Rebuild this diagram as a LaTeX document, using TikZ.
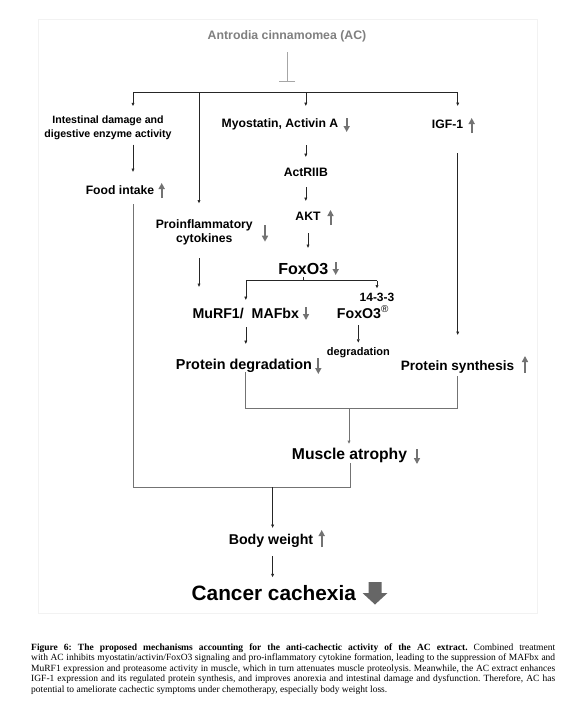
\documentclass[tikz,border=0pt]{standalone}
\usepackage{fontspec}
\setmainfont{Liberation Serif}
\newfontfamily\lsans{Liberation Sans}
\usetikzlibrary{arrows.meta}
\tikzset{
  lbl/.style={inner sep=0pt, anchor=base, text depth=0pt},
  ml/.style={inner sep=0pt, anchor=north, align=center},
  tT/.style={lbl, font=\lsans\bfseries\fontsize{12.3}{14}\selectfont, text height=8.9pt},
  tM/.style={lbl, font=\lsans\bfseries\fontsize{12.2}{14}\selectfont, text height=8.8pt},
  tF/.style={lbl, font=\lsans\bfseries\fontsize{16}{18}\selectfont, text height=11.5pt},
  tS/.style={lbl, font=\lsans\bfseries\fontsize{12}{14}\selectfont, text height=8.6pt},
  tL/.style={lbl, font=\lsans\bfseries\fontsize{14.2}{16}\selectfont, text height=10.2pt},
  tPD/.style={lbl, font=\lsans\bfseries\fontsize{14.4}{16}\selectfont, text height=10.4pt},
  tPS/.style={lbl, font=\lsans\bfseries\fontsize{13.6}{16}\selectfont, text height=9.8pt},
  tD/.style={lbl, font=\lsans\bfseries\fontsize{11}{13}\selectfont, text height=7.9pt},
  tMA/.style={lbl, font=\lsans\bfseries\fontsize{15.7}{18}\selectfont, text height=11.3pt},
  tC/.style={lbl, font=\lsans\bfseries\fontsize{20.8}{24}\selectfont, text height=15pt},
  arr/.style={draw=black!85, line width=0.6pt, -{Triangle[length=3.2pt,width=2.8pt]}},
  arrg/.style={draw=black!55, line width=0.8pt, -{Triangle[length=3.2pt,width=2.8pt]}},
  ln/.style={draw=black!85, line width=0.6pt},
  ln2/.style={draw=black!55, line width=0.8pt},
  ind/.style={draw=black!55, line width=2pt, -{Triangle[length=6pt,width=6pt]}},
  inh/.style={draw=black!35, line width=0.7pt, -{Bar[width=16pt]}}
}
\begin{document}
\begin{tikzpicture}[x=1pt,y=-1pt]
\useasboundingbox (0,0) rectangle (586,705);
\fill[white] (0,0) rectangle (586,705);
\draw[black!5, line width=0.6pt] (38.5,19.5) rectangle (537,613);

% nodes
\node[tT, text=black!50] (title) at (287,39.5) {Antrodia cinnamomea (AC)};
\node[ml, font=\lsans\bfseries\fontsize{10.6}{14}\selectfont] (intest) at (108,115.4) {Intestinal damage and\\digestive enzyme activity};
\node[tM] (myo) at (280,127.5) {Myostatin, Activin A};
\node[tM] (igf) at (447.5,128.5) {IGF-1};
\node[tM] (food) at (120,194) {Food intake};
\node[tM] (actr) at (305.8,176) {ActRIIB};
\node[tM] (akt) at (308,220.5) {AKT};
\node[ml, font=\lsans\bfseries\fontsize{12.2}{14.7}\selectfont] (proinf) at (204.3,219.2) {Proinflammatory\\cytokines};
\node[tF] (foxo) at (303.3,274) {FoxO3};
\node[tS] (p1433) at (377,301.7) {14-3-3};
\node[tL, anchor=base west] (pfox) at (336.7,318) {FoxO3\textsuperscript{\mdseries ®}};
\node[tL] (murf) at (245.8,318) {MuRF1/\ \ MAFbx};
\node[tD] (degr) at (358.3,355) {degradation};
\node[tPD] (protdeg) at (244,369.3) {Protein degradation};
\node[tPS] (protsyn) at (457.5,370.7) {Protein synthesis};
\node[tMA] (muscle) at (349.5,459) {Muscle atrophy};
\node[tL] (body) at (271,544) {Body weight};
\node[tC] (cancer) at (273.8,600) {Cancer cachexia};

% coordinates
\coordinate (tbar) at (287,82);
\coordinate (brL) at (133,92);
\coordinate (brP) at (199,92);
\coordinate (brM) at (305.8,92);
\coordinate (brR) at (457.7,92);
\coordinate (fb) at (303.3,280.7);
\coordinate (fbL) at (245.8,280.7);
\coordinate (fbR) at (377,280.7);
\coordinate (mL) at (245.8,408);
\coordinate (mR) at (457.7,408);
\coordinate (mC) at (349,408);
\coordinate (nL) at (133,487);
\coordinate (nR) at (350.5,487);
\coordinate (nC) at (272.6,487);

% connectors
\draw[inh, shorten <=12.5pt] (title.south) -- (tbar);
\draw[ln] (brL) -- (brR);
\draw[arr, shorten >=9.4pt] (brL) -- (brL |- intest.north);
\draw[arr, shorten >=12.7pt] (brM) -- (brM |- myo.north);
\draw[arr, shorten >=13.7pt] (brR) -- (brR |- igf.north);
\draw[arr, shorten >=16pt] (brP) -- (brP |- proinf.north);
\draw[arr, shorten <=4.8pt, shorten >=13.2pt] (intest.south -| brL) -- (food.north -| brL);
\draw[arr, shorten <=17.5pt, shorten >=10.2pt] (myo.south -| actr) -- (actr.north);
\draw[arr, shorten <=11pt, shorten >=10.7pt] (actr.south) -- (akt.north -| actr.south);
\draw[arr, shorten <=12.5pt, shorten >=14.5pt] (akt.south) -- (foxo.north -| akt.south);
\draw[ln, shorten <=2.7pt] (foxo.south) -- (fb);
\draw[ln] (fbL) -- (fbR);
\draw[arr, shorten >=7.8pt] (fbL) -- (murf.north);
\draw[arr, shorten >=4.7pt] (fbR) -- (p1433.north);
\draw[arr, shorten <=12.7pt, shorten >=20.8pt] (proinf.south -| brP) -- (murf.north -| brP);
\draw[arr, shorten <=9pt, shorten >=14.9pt] (murf.south) -- (murf.south |- protdeg.north);
\draw[arr, shorten <=7pt, shorten >=4.4pt] (pfox.south -| degr) -- (degr.north);
\draw[arr, shorten <=24.5pt, shorten >=25.9pt] (igf.south -| brR) -- (brR |- protsyn.north);
\draw[ln2, shorten <=2.7pt, shorten >=5.3pt] (protdeg.south -| mL) -- (mL) -- (mR) -- (protsyn.south -| mR);
\draw[arrg, shorten >=3.7pt] (mC) -- (mC |- muscle.north);
\draw[ln2, shorten <=10pt, shorten >=4pt] (food.south -| nL) -- (nL) -- (nR) -- (nR |- muscle.south);
\draw[arr, shorten >=5.8pt] (nC) -- (nC |- body.north);
\draw[arr, shorten <=12pt, shorten >=7.7pt] (body.south -| nC) -- (nC |- cancer.north);

% up / down indicators
\draw[ind] (346.7,118) -- (346.7,132);
\draw[ind] (471.7,133) -- (471.7,118);
\draw[ind] (161.7,198) -- (161.7,183);
\draw[ind] (330.5,225) -- (330.5,210);
\draw[ind] (265,225) -- (265,241.7);
\draw[ind] (335.7,262) -- (335.7,275);
\draw[ind] (306,307) -- (306,320);
\draw[ind] (318.3,358) -- (318.3,374);
\draw[ind] (525,372.7) -- (525,356);
\draw[ind] (417,449) -- (417,464);
\draw[ind] (321.7,547) -- (321.7,530);
\fill[black!60] (368.5,582) -- (381.5,582) -- (381.5,593) -- (387.5,593) -- (375,604.5) -- (362.5,593) -- (368.5,593) -- cycle;

% caption
\node[anchor=north west, text width=524pt, inner sep=0pt, align=justify, font=\fontsize{9.5}{10.5}\selectfont] (cap) at (31,643.5) {\noindent\frenchspacing\textbf{Figure 6: The proposed mechanisms accounting for the anti-cachectic activity of the AC extract.} Combined treatment\linebreak with AC inhibits myostatin/activin/FoxO3 signaling and pro-inflammatory cytokine formation, leading to the suppression of MAFbx and\linebreak MuRF1 expression and proteasome activity in muscle, which in turn attenuates muscle proteolysis. Meanwhile, the AC extract enhances\linebreak IGF-1 expression and its regulated protein synthesis, and improves anorexia and intestinal damage and dysfunction. Therefore, AC has\linebreak potential to ameliorate cachectic symptoms under chemotherapy, especially body weight loss.};
\end{tikzpicture}
\end{document}
